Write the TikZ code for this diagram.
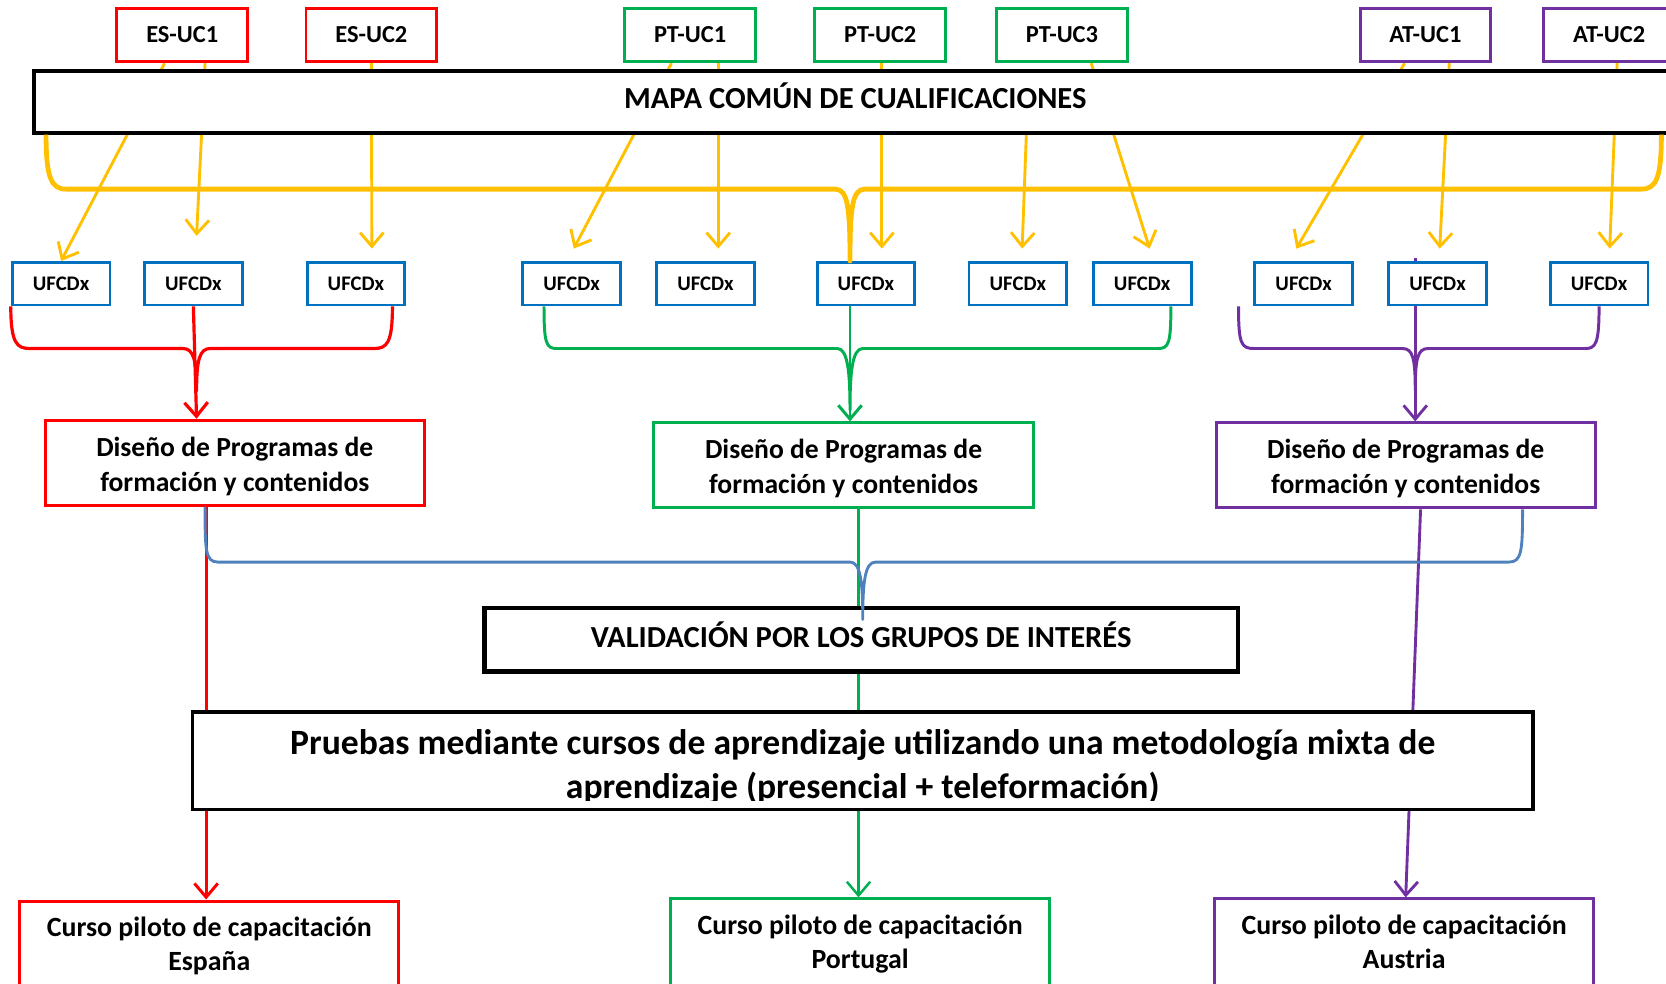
\documentclass[tikz,border=0pt]{standalone}
\usepackage{fontspec}
\setmainfont{Carlito}
\usetikzlibrary{arrows.meta, calc, backgrounds}
\definecolor{esred}{HTML}{FF0000}
\definecolor{ptgreen}{HTML}{00B050}
\definecolor{atpurple}{HTML}{7030A0}
\definecolor{ufblue}{HTML}{0070C0}
\definecolor{ucyellow}{HTML}{FFC000}
\definecolor{valblue}{HTML}{4F81BD}

\begin{document}
\begin{tikzpicture}[x=1pt, y=-1pt,
  plainbox/.style={draw, fill=white, line width=2.8pt, align=center, inner sep=0pt},
  ucnode/.style={plainbox, minimum width=123pt, minimum height=50pt, font=\fontsize{23}{28}\selectfont\bfseries},
  ufnode/.style={plainbox, draw=ufblue, line width=2.7pt, minimum width=92pt, minimum height=40pt, font=\fontsize{19.5}{22}\selectfont\bfseries},
  disnode/.style={plainbox, minimum width=357pt, minimum height=80pt, font=\fontsize{26}{33}\selectfont\bfseries, text height=57.5pt},
  cursonode/.style={plainbox, minimum width=357pt, minimum height=86pt, font=\fontsize{26.2}{32}\selectfont\bfseries, text depth=5.5pt},
  blacknode/.style={plainbox, draw=black, line width=3.3pt, text height=18.4pt},
  barb/.style={-{Straight Barb[length=13pt, width=22pt]}},
  yarrow/.style={ucyellow, line width=2.7pt, barb},
  brace/.style={line width=2.8pt, line join=round}]
\useasboundingbox (0,0) rectangle (1568,926);

% Levels of the braces
\pgfmathsetmacro{\yYel}{178}
\pgfmathsetmacro{\yUF}{328}
\pgfmathsetmacro{\yBlue}{529}
\pgfmathsetmacro{\yTip}{234}

% Qualification units on top
\node[ucnode, draw=esred] (es1) at (171.5,33) {ES-UC1};
\node[ucnode, draw=esred] (es2) at (349.5,33) {ES-UC2};
\node[ucnode, draw=ptgreen] (pt1) at (649.5,33) {PT-UC1};
\node[ucnode, draw=ptgreen] (pt2) at (828.5,33) {PT-UC2};
\node[ucnode, draw=ptgreen] (pt3) at (999.5,33) {PT-UC3};
\node[ucnode, draw=atpurple] (at1) at (1341.5,33) {AT-UC1};
\node[ucnode, draw=atpurple] (at2) at (1514.5,33) {AT-UC2};

% Common map
\node[blacknode, text depth=6pt, minimum width=1546pt, minimum height=58pt, font=\fontsize{28.8}{34}\selectfont\bfseries] (mapa) at (805,96) {MAPA COMÚN DE CUALIFICACIONES};

% Training units
\node[ufnode] (ufcd1) at (57.5,267) {UFCDx};
\node[ufnode] (ufcd2) at (182,267) {UFCDx};
\node[ufnode] (ufcd3) at (335,267) {UFCDx};
\node[ufnode] (ufcd4) at (538,267) {UFCDx};
\node[ufnode] (ufcd5) at (664,267) {UFCDx};
\node[ufnode] (ufcd6) at (815,267) {UFCDx};
\node[ufnode] (ufcd7) at (958,267) {UFCDx};
\node[ufnode] (ufcd8) at (1075,267) {UFCDx};
\node[ufnode] (ufcd9) at (1227,267) {UFCDx};
\node[ufnode] (ufcd10) at (1353,267) {UFCDx};
\node[ufnode] (ufcd11) at (1505,267) {UFCDx};

% Programme design
\node[disnode, draw=esred] (esdis) at (221,435.5) {Diseño de Programas de\\formación y contenidos};
\node[disnode, draw=ptgreen] (ptdis) at (794,438) {Diseño de Programas de\\formación y contenidos};
\node[disnode, draw=atpurple] (atdis) at (1323,438) {Diseño de Programas de\\formación y contenidos};

% Validation and tests
\node[blacknode, line width=4pt, text depth=4pt, minimum width=709pt, minimum height=60pt, font=\fontsize{28.8}{34}\selectfont\bfseries] (valid) at (810.5,602) {VALIDACIÓN POR LOS GRUPOS DE INTERÉS};
\node[blacknode, minimum width=1262pt, minimum height=92pt] (pruebas) at (812,716) {};
\begin{scope}
\clip ([xshift=2pt]pruebas.north west) rectangle ([yshift=10pt]pruebas.south east);
\node[align=center, inner sep=0pt, font=\fontsize{33.5}{42}\selectfont\bfseries] (pruebastext) at (812,722) {Pruebas mediante cursos de aprendizaje utilizando una metodología mixta de\\aprendizaje (presencial + teleformación)};
\end{scope}

% Pilot courses
\node[cursonode, draw=esred] (escurso) at (197,891) {Curso piloto de capacitación\\España};
\node[cursonode, draw=ptgreen] (ptcurso) at (809.5,889) {Curso piloto de capacitación\\Portugal};
\node[cursonode, draw=atpurple] (atcurso) at (1321.5,889) {Curso piloto de capacitación\\Austria};

% Free ends of the yellow arrows
\coordinate (es1b) at (185,222);
\coordinate (es2b) at (350,\yTip);
\coordinate (pt1a) at (540,\yTip);
\coordinate (pt1b) at (676,\yTip);
\coordinate (pt2b) at (830,\yTip);
\coordinate (pt3s) at (966,125);
\coordinate (pt3a) at (962,\yTip);
\coordinate (pt3b) at (1082,\yTip);
\coordinate (at1a) at (1220,\yTip);
\coordinate (at1b) at (1355,\yTip);
\coordinate (at2b) at (1515,\yTip);
\coordinate (atstart) at (1332,243);

\begin{scope}[on background layer]
% Draw units into the map
\draw[yarrow] ([xshift=-16.5pt]es1.south) -- (ufcd1.north);
\draw[yarrow] ([xshift=21.5pt]es1.south) -- (es1b);
\draw[yarrow] (es2.south) -- (es2b);
\draw[yarrow] ([xshift=-17.5pt]pt1.south) -- (pt1a);
\draw[yarrow] ([xshift=26.5pt]pt1.south) -- (pt1b);
\draw[yarrow] ([xshift=1.5pt]pt2.south) -- (pt2b);
\draw[yarrow] (pt3s) -- (pt3a);
\draw[yarrow] ([xshift=27.5pt]pt3.south) -- (pt3b);
\draw[yarrow] ([xshift=-19.5pt]at1.south) -- (at1a);
\draw[yarrow] ([xshift=22.5pt]at1.south) -- (at1b);
\draw[yarrow] ([xshift=7.5pt]at2.south) -- (at2b);
% Draw arrow behind the purple unit
\draw[atpurple, line width=2.7pt, barb] (atstart) -- ([xshift=9pt]atdis.north);
% Draw lines down to the pilot courses
\draw[esred, line width=2.8pt, barb] ([xshift=-27pt]esdis.south) -- ([xshift=-3pt]escurso.north);
\draw[ptgreen, line width=2.3pt, barb] ([xshift=14pt]ptdis.south) -- ([xshift=-1.5pt]ptcurso.north);
\draw[atpurple, line width=2.7pt, barb] ([xshift=14pt]atdis.south) -- ([xshift=1.5pt]atcurso.north);
\end{scope}

% Yellow brace
\draw[ucyellow, brace, line width=4.5pt] ([xshift=13pt]mapa.south west) .. controls +(0,40) and +(-14,0) .. (62,\yYel)
  -- (786,\yYel) .. controls +(12,0) and +(0,-50) .. ([xshift=-15pt]ufcd6.north)
  .. controls +(0,-50) and +(-12,0) .. (814,\yYel)
  -- (1545,\yYel) .. controls +(14,0) and +(0,40) .. ([xshift=-16pt]mapa.south east);

% Red brace
\draw[esred, brace, line width=3pt] (ufcd1.south west) .. controls +(0,35) and +(-12,0) .. (28,\yUF)
  -- (172,\yUF) .. controls +(10,0) and +(0,-30) .. (185,368)
  .. controls +(0,-30) and +(-10,0) .. (198,\yUF)
  -- (352,\yUF) .. controls +(12,0) and +(0,35) .. ([xshift=-13pt]ufcd3.south east);
\draw[esred, line width=3pt, barb] (ufcd2.south) -- ([xshift=-36pt]esdis.north);

% Green brace
\draw[ptgreen, brace] ([xshift=-26pt]ufcd4.south) .. controls +(0,35) and +(-10,0) .. (524,\yUF)
  -- (788,\yUF) .. controls +(10,0) and +(0,-35) .. (800,386)
  .. controls +(0,-35) and +(-10,0) .. (812,\yUF)
  -- (1090,\yUF) .. controls +(10,0) and +(0,35) .. ([xshift=27pt]ufcd8.south);
\draw[ptgreen, line width=2.8pt, barb] ([xshift=-15pt]ufcd6.south) -- ([xshift=6pt]ptdis.north);

% Purple brace
\draw[atpurple, brace] ([xshift=-14pt]ufcd9.south west) .. controls +(0,35) and +(-12,0) .. (1180,\yUF)
  -- (1320,\yUF) .. controls +(10,0) and +(0,-30) .. (1332,368)
  .. controls +(0,-30) and +(-10,0) .. (1344,\yUF)
  -- (1492,\yUF) .. controls +(10,0) and +(0,35) .. (ufcd11.south);

% Blue brace into the validation
\draw[valblue, brace, line width=2.7pt] ([xshift=-28pt]esdis.south) .. controls +(0,40) and +(-12,0) .. (205,\yBlue)
  -- (800,\yBlue) .. controls +(10,0) and +(0,-35) .. (812,583)
  .. controls +(0,-35) and +(-10,0) .. (824,\yBlue)
  -- (1420,\yBlue) .. controls +(12,0) and +(0,40) .. ([xshift=110pt]atdis.south);

\end{tikzpicture}
\end{document}
